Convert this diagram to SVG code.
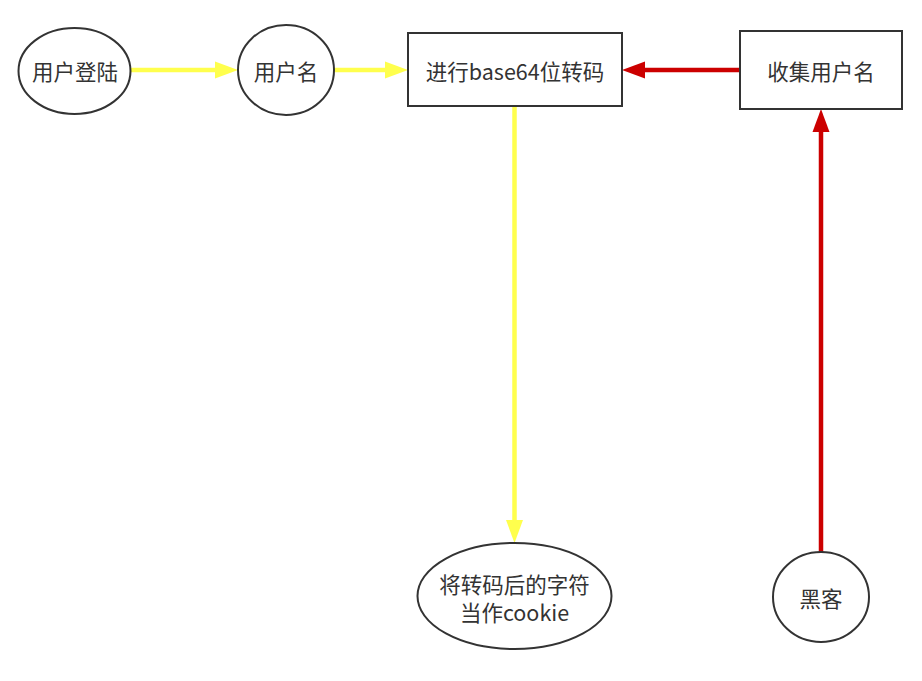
<svg xmlns="http://www.w3.org/2000/svg" width="922" height="681" viewBox="0 0 922 681">
<style>
.node{fill:#fff;stroke:#333;stroke-width:2}
.t{font-family:"Noto Sans CJK SC","Noto Sans",sans-serif;font-size:21.5px;fill:#333;text-anchor:middle;dominant-baseline:central}
.y{stroke:#ffff4d;stroke-width:4.5;fill:none}
.r{stroke:#cc0000;stroke-width:4.5;fill:none}
.yh{fill:#ffff4d}
.rh{fill:#cc0000}
</style>
<rect width="922" height="681" fill="#fff"/>
<g id="connectors">
<line class="y" x1="131" y1="70" x2="218" y2="70"/>
<polygon class="yh" points="238,70 215,61.5 215,78.5"/>
<line class="y" x1="334" y1="70" x2="388" y2="70"/>
<polygon class="yh" points="408,70 385,61.5 385,78.5"/>
<line class="y" x1="514.5" y1="106" x2="514.5" y2="523"/>
<polygon class="yh" points="514.5,543 506,520 523,520"/>
<line class="r" x1="740" y1="70" x2="642" y2="70"/>
<polygon class="rh" points="622,70 645,61.5 645,78.5"/>
<line class="r" x1="821" y1="552" x2="821" y2="129"/>
<polygon class="rh" points="821,109 812.5,132 829.5,132"/>
</g>
<g id="n1"><ellipse class="node" cx="74.5" cy="71" rx="56" ry="43"/><text class="t" x="75" y="70">用户登陆</text></g>
<g id="n2"><ellipse class="node" cx="286" cy="70" rx="48" ry="45"/><text class="t" x="286" y="70">用户名</text></g>
<g id="n3"><rect class="node" x="408" y="33" width="214" height="73"/><text class="t" x="515" y="70">进行base64位转码</text></g>
<g id="n4"><rect class="node" x="740" y="31" width="162" height="78"/><text class="t" x="821" y="70">收集用户名</text></g>
<g id="n5"><ellipse class="node" cx="514.5" cy="596" rx="97" ry="53"/><text class="t" x="514.5" y="583">将转码后的字符</text><text class="t" x="514.5" y="611">当作cookie</text></g>
<g id="n6"><ellipse class="node" cx="821" cy="597" rx="48" ry="45"/><text class="t" x="821" y="597">黑客</text></g>
</svg>
